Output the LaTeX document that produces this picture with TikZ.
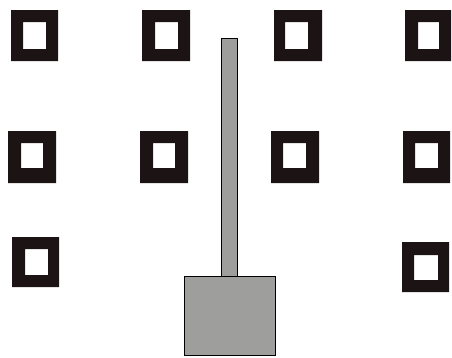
\documentclass[tikz,border=0pt]{standalone}
\definecolor{framecol}{RGB}{28,20,20}
\definecolor{rodcol}{RGB}{158,158,156}
\begin{document}
\begin{tikzpicture}[x=1pt,y=-1pt,
  frame/.style={fill=framecol,even odd rule},
  rodfill/.style={fill=rodcol,draw=black,line width=0.8pt}]
\useasboundingbox (0,0) rectangle (452,357);
% squares: outer x1 y1 x2 y2 / inner x1 y1 x2 y2
\foreach \a/\b/\c/\d/\e/\f/\g/\h in {
 11/10/58/61/23/22/46/49,
 142/10/190/61/155/22/178/49,
 274/10/322/61/285/22/308/49,
 405/10/451/61/418/22/439/49,
 8/131/56/183/21/143/43/168,
 140/131/188/183/153/143/175/168,
 271/131/319/183/283/143/306/168,
 403/131/450/183/415/143/438/168,
 12/237/59/287/25/249/48/275,
 402/242/449/292/414/255/438/280}
 {\fill[frame] (\a,\b) rectangle (\c,\d) (\e,\f) rectangle (\g,\h);}
% rod and box
\draw[rodfill] (221.5,38.5) rectangle (237.5,276);
\draw[rodfill] (184,276) rectangle (275,355);
\end{tikzpicture}
\end{document}
